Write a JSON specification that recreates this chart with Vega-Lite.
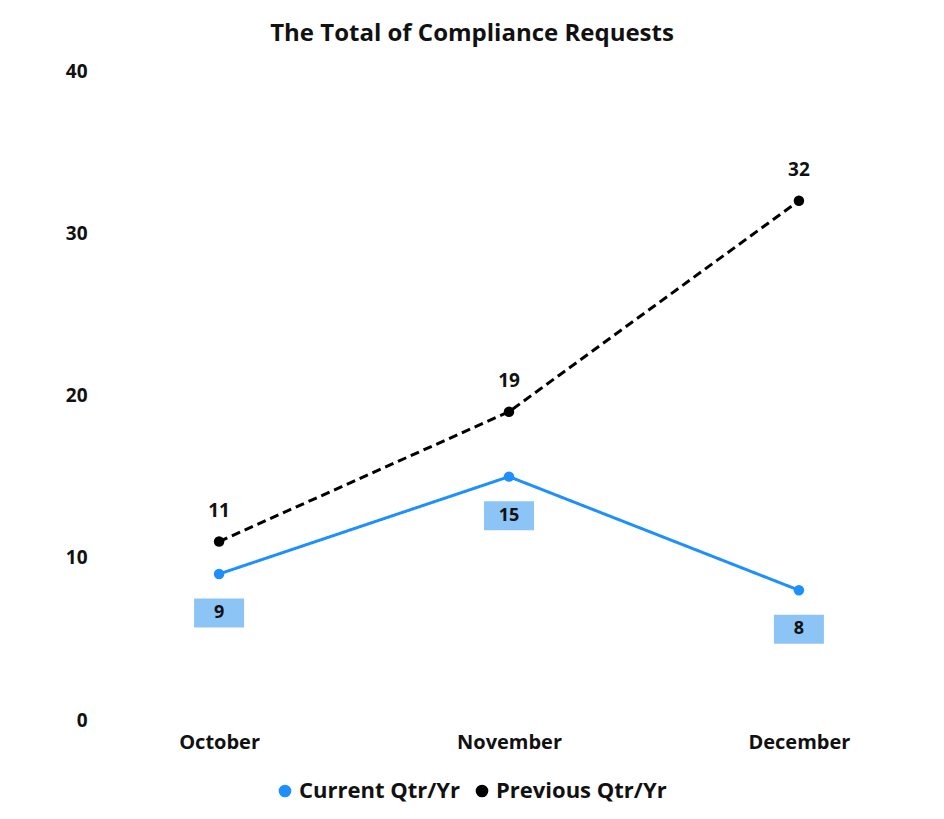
{
  "$schema": "https://vega.github.io/schema/vega-lite/v6.json",
  "autosize": "none",
  "width": 828,
  "height": 649,
  "padding": {"left": 95, "top": 71, "right": 21, "bottom": 99},
  "background": "white",
  "title": {
    "text": "The Total of Compliance Requests",
    "font": "Open Sans",
    "fontSize": 24,
    "fontWeight": "bold",
    "color": "#111111",
    "anchor": "middle",
    "frame": "group",
    "dx": -37,
    "offset": 16
  },
  "data": {
    "values": [
      {"month": "October", "series": "Current Qtr/Yr", "value": 9},
      {"month": "November", "series": "Current Qtr/Yr", "value": 15},
      {"month": "December", "series": "Current Qtr/Yr", "value": 8},
      {"month": "October", "series": "Previous Qtr/Yr", "value": 11},
      {"month": "November", "series": "Previous Qtr/Yr", "value": 19},
      {"month": "December", "series": "Previous Qtr/Yr", "value": 32}
    ]
  },
  "encoding": {
    "x": {
      "field": "month",
      "type": "ordinal",
      "sort": ["October", "November", "December"],
      "scale": {"type": "point", "padding": 0.428},
      "axis": {
        "title": null,
        "labelAngle": 0,
        "domain": false,
        "ticks": false,
        "labelPadding": 12,
        "labelFont": "Open Sans",
        "labelFontSize": 20,
        "labelFontWeight": "bold",
        "labelColor": "#111111"
      }
    },
    "y": {
      "field": "value",
      "type": "quantitative",
      "scale": {"domain": [0, 40]},
      "axis": {
        "title": null,
        "values": [0, 10, 20, 30, 40],
        "grid": false,
        "domain": false,
        "ticks": false,
        "labelPadding": 8,
        "labelFont": "Open Sans",
        "labelFontSize": 19,
        "labelFontWeight": "bold",
        "labelColor": "#111111"
      }
    },
    "color": {
      "field": "series",
      "type": "nominal",
      "scale": {"domain": ["Current Qtr/Yr", "Previous Qtr/Yr"], "range": ["#1e8fff", "#000000"]},
      "legend": {
        "title": null,
        "orient": "none",
        "legendX": 179,
        "legendY": 709,
        "direction": "horizontal",
        "symbolType": "circle",
        "symbolSize": 160,
        "symbolStrokeWidth": 0,
        "labelFont": "Open Sans",
        "labelFontSize": 22,
        "labelFontWeight": "bold",
        "labelColor": "#111111",
        "labelLimit": 400,
        "columnPadding": 10,
        "symbolOffset": 0,
        "labelOffset": 3
      }
    }
  },
  "layer": [
    {
      "mark": {"type": "line", "strokeWidth": 3},
      "encoding": {
        "strokeDash": {
          "field": "series",
          "type": "nominal",
          "scale": {"domain": ["Current Qtr/Yr", "Previous Qtr/Yr"], "range": [[1, 0], [9, 5]]},
          "legend": null
        }
      }
    },
    {
      "mark": {"type": "point", "filled": true, "size": 110, "opacity": 1}
    },
    {
      "transform": [{"filter": "datum.series === 'Previous Qtr/Yr'"}],
      "mark": {"type": "text", "yOffset": -31, "font": "Open Sans", "fontSize": 19, "fontWeight": "bold", "color": "#111111"},
      "encoding": {"text": {"field": "value", "type": "quantitative"}, "color": {"value": "#111111"}}
    },
    {
      "transform": [{"filter": "datum.series === 'Current Qtr/Yr'"}],
      "mark": {"type": "point", "shape": "M-1,-0.58H1V0.58H-1Z", "filled": true, "size": 2500, "yOffset": 39, "opacity": 1, "color": "#8cc5f5"},
      "encoding": {"color": {"value": "#8cc5f5"}}
    },
    {
      "transform": [{"filter": "datum.series === 'Current Qtr/Yr'"}],
      "mark": {"type": "text", "yOffset": 39, "font": "Open Sans", "fontSize": 18, "fontWeight": "bold", "color": "#111111"},
      "encoding": {"text": {"field": "value", "type": "quantitative"}, "color": {"value": "#111111"}}
    }
  ],
  "config": {"view": {"stroke": null}}
}
